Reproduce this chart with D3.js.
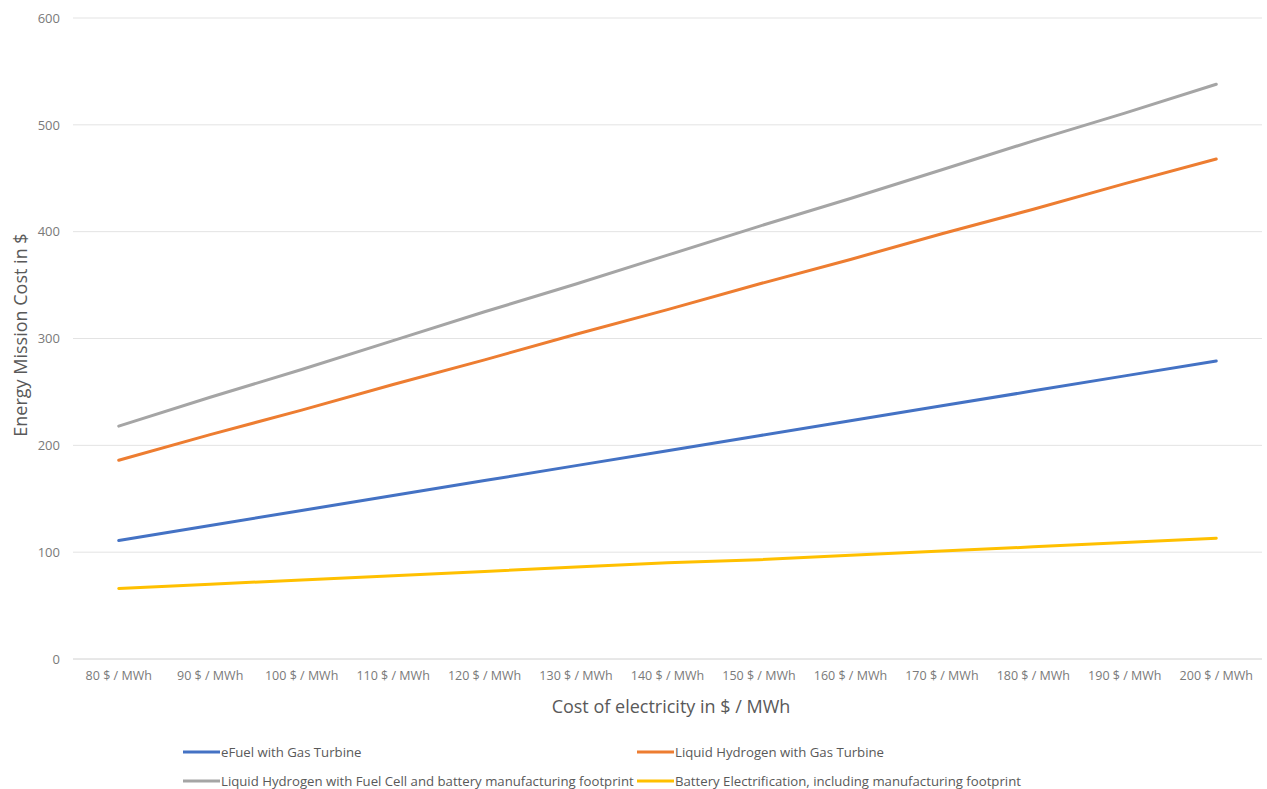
<!DOCTYPE html>
<html><head><meta charset="utf-8">
<script src="https://cdn.jsdelivr.net/npm/d3@7"></script>
<style>body{margin:0;background:#fff;} svg{display:block;} text{font-family:"Open Sans","Noto Sans",sans-serif;}</style>
</head><body>
<svg id="c" width="1267" height="789"></svg>
<script>
const categories = ["80 $ / MWh","90 $ / MWh","100 $ / MWh","110 $ / MWh","120 $ / MWh","130 $ / MWh","140 $ / MWh","150 $ / MWh","160 $ / MWh","170 $ / MWh","180 $ / MWh","190 $ / MWh","200 $ / MWh"];
const eFuelGT = [111,125,139,153,167,181,195,209,223,237,251,265,279];
const lh2GT = [186,210,233,257,280,304,327,351,374,398,421,445,468];
const lh2FC = [218,245,271,298,325,351,378,405,431,458,485,511,538];
const battery = [66,70,74,78,82,86,90,93,97,101,105,109,113];
const seriesNames = ["eFuel with Gas Turbine","Liquid Hydrogen with Gas Turbine","Liquid Hydrogen with Fuel Cell and battery manufacturing footprint","Battery Electrification, including manufacturing footprint"];
const yTicks = [0,100,200,300,400,500,600];

const series = [
  {name: seriesNames[0], values: eFuelGT, color: "#4472C4"},
  {name: seriesNames[1], values: lh2GT, color: "#ED7D31"},
  {name: seriesNames[2], values: lh2FC, color: "#A5A5A5"},
  {name: seriesNames[3], values: battery, color: "#FFC000"}
];

const svg = d3.select("#c");
const x = d3.scaleBand().domain(categories).range([73, 1262]);
const y = d3.scaleLinear().domain([0, 600]).range([659, 18]);

// gridlines
svg.append("g").selectAll("line").data(yTicks).join("line")
  .attr("x1", 73).attr("x2", 1262)
  .attr("y1", d => y(d)).attr("y2", d => y(d))
  .attr("stroke", d => d === 0 ? "#d0d0d0" : "#e3e3e3").attr("stroke-width", 1);

// y axis labels
const yAxis = d3.axisLeft(y).tickValues(yTicks).tickSize(0).tickPadding(0);
const gy = svg.append("g").attr("transform", "translate(60,0)").call(yAxis);
gy.select(".domain").remove();
gy.selectAll("text").attr("fill", "#7a7a7a").style("font-size", "13px").style("font-family", "'Open Sans',sans-serif");

// x axis labels
const xAxis = d3.axisBottom(x).tickSize(0).tickPadding(0);
const gx = svg.append("g").attr("transform", "translate(0,671)").call(xAxis);
gx.select(".domain").remove();
gx.selectAll("text").attr("fill", "#7a7a7a").style("font-size", "12.5px").style("font-family", "'Open Sans',sans-serif");

// lines
const line = d3.line().x((d, i) => x(categories[i]) + x.bandwidth() / 2).y(d => y(d));
svg.append("g").selectAll("path").data(series).join("path")
  .attr("d", d => line(d.values))
  .attr("fill", "none").attr("stroke", d => d.color).attr("stroke-width", 3)
  .attr("stroke-linecap", "round");

// axis titles
svg.append("text").attr("transform", "translate(27,335) rotate(-90)")
  .attr("text-anchor", "middle").attr("fill", "#595959").style("font-size", "18px")
  .text("Energy Mission Cost in $");
svg.append("text").attr("x", 671).attr("y", 713)
  .attr("text-anchor", "middle").attr("fill", "#595959").style("font-size", "18px")
  .text("Cost of electricity in $ / MWh");

// legend
const legPos = [[183, 752], [637, 752], [183, 781], [637, 781]];
const lg = svg.append("g").selectAll("g").data(series).join("g")
  .attr("transform", (d, i) => `translate(${legPos[i][0]},${legPos[i][1]})`);
lg.append("line").attr("x1", 0).attr("x2", 37).attr("y1", 0).attr("y2", 0)
  .attr("stroke", d => d.color).attr("stroke-width", 3);
lg.append("text").attr("x", 38).attr("y", 4.5).attr("fill", "#595959").style("font-size", "13.2px")
  .text(d => d.name);
</script>
</body></html>
